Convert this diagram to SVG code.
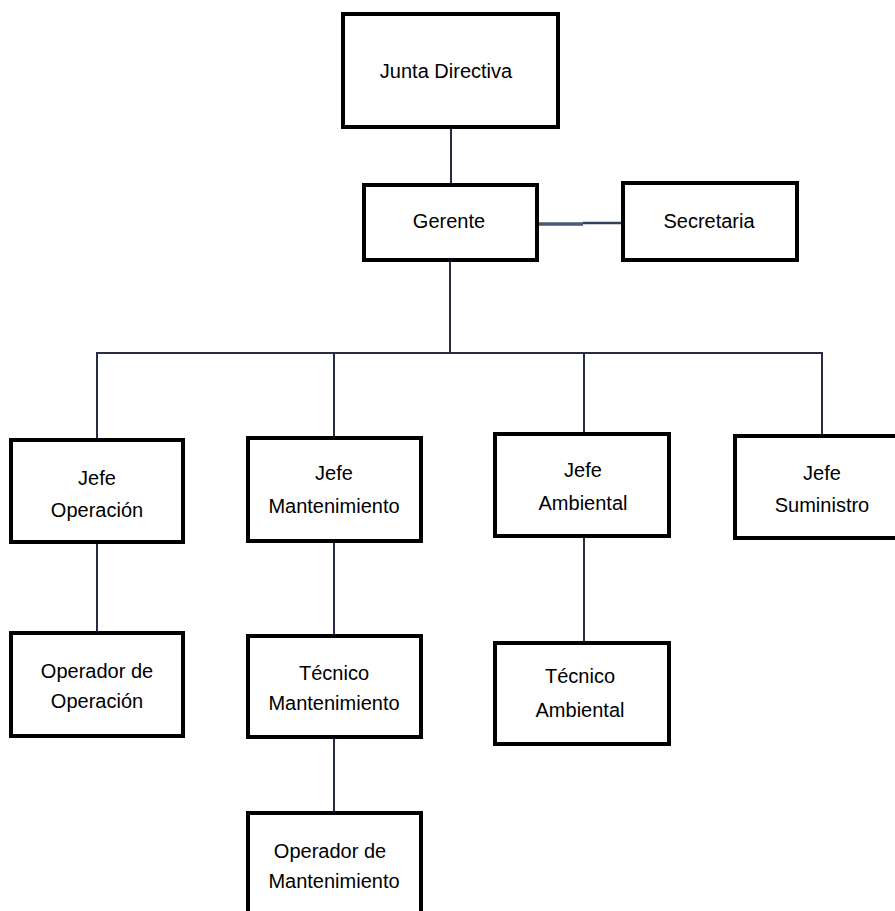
<svg xmlns="http://www.w3.org/2000/svg" width="895" height="911" viewBox="0 0 895 911">
<style>
.box{fill:#fff;stroke:#000;stroke-width:4}
.t{font-family:"Liberation Sans",Arial,sans-serif;font-size:20px;fill:#000;text-anchor:middle}
.c{stroke:#262c48;stroke-width:2;fill:none}
</style>
<rect width="895" height="911" fill="#fff"/>
<g id="connectors">
<line class="c" x1="451" y1="127" x2="451" y2="185"/>
<path d="M537 224 H583" stroke="#4a5a78" stroke-width="3.5" fill="none"/>
<path d="M583 223 H623" stroke="#34405e" stroke-width="2.5" fill="none"/>
<line class="c" x1="450" y1="260" x2="450" y2="354"/>
<path class="c" d="M97 440 V353 H822 V436"/>
<line class="c" x1="334" y1="353" x2="334" y2="438"/>
<line class="c" x1="584" y1="353" x2="584" y2="434"/>
<line class="c" x1="97" y1="542" x2="97" y2="633"/>
<line class="c" x1="334" y1="541" x2="334" y2="636"/>
<line class="c" x1="334" y1="737" x2="334" y2="813"/>
<line class="c" x1="584" y1="536" x2="584" y2="643"/>
</g>
<g id="junta"><rect class="box" x="343" y="14" width="215" height="113"/><text class="t" x="446" y="78">Junta Directiva</text></g>
<g id="gerente"><rect class="box" x="364" y="185" width="173" height="75"/><text class="t" x="449" y="228">Gerente</text></g>
<g id="secretaria"><rect class="box" x="623" y="183" width="174" height="77"/><text class="t" x="709" y="228">Secretaria</text></g>
<g id="jefe-operacion"><rect class="box" x="11" y="440" width="172" height="102"/><text class="t" x="97" y="485">Jefe</text><text class="t" x="97" y="517">Operación</text></g>
<g id="jefe-mantenimiento"><rect class="box" x="248" y="438" width="173" height="103"/><text class="t" x="334" y="480">Jefe</text><text class="t" x="334" y="513">Mantenimiento</text></g>
<g id="jefe-ambiental"><rect class="box" x="495" y="434" width="174" height="102"/><text class="t" x="583" y="477">Jefe</text><text class="t" x="583" y="510">Ambiental</text></g>
<g id="jefe-suministro"><rect class="box" x="735" y="436" width="164" height="102"/><text class="t" x="822" y="480">Jefe</text><text class="t" x="822" y="512">Suministro</text></g>
<g id="operador-operacion"><rect class="box" x="11" y="633" width="172" height="103"/><text class="t" x="97" y="678">Operador de</text><text class="t" x="97" y="708">Operación</text></g>
<g id="tecnico-mantenimiento"><rect class="box" x="248" y="636" width="173" height="101"/><text class="t" x="334" y="680">Técnico</text><text class="t" x="334" y="710">Mantenimiento</text></g>
<g id="operador-mantenimiento"><rect class="box" x="248" y="813" width="173" height="110"/><text class="t" x="330" y="858">Operador de</text><text class="t" x="334" y="888">Mantenimiento</text></g>
<g id="tecnico-ambiental"><rect class="box" x="495" y="643" width="174" height="101"/><text class="t" x="580" y="683">Técnico</text><text class="t" x="580" y="717">Ambiental</text></g>
</svg>
